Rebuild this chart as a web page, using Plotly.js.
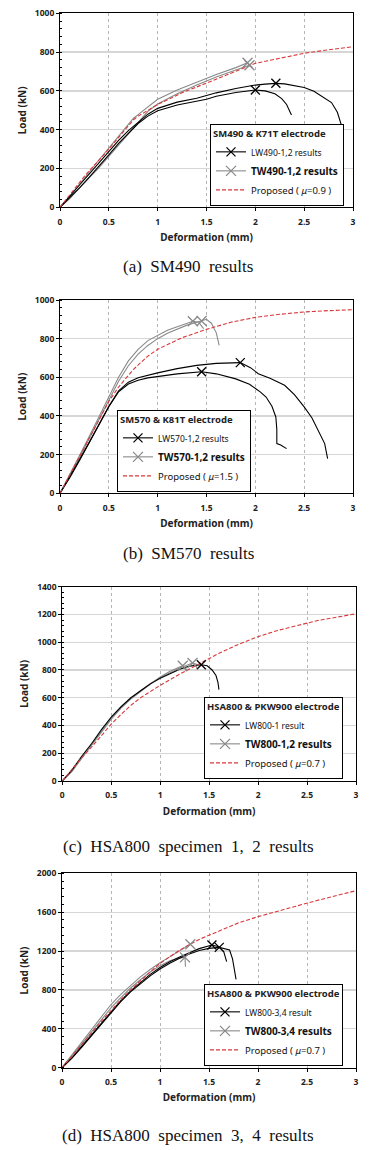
<!DOCTYPE html>
<html><head><meta charset="utf-8">
<script src="https://cdn.plot.ly/plotly-3.0.1.min.js"></script>
<style>html,body{margin:0;padding:0;background:#fff;} #chart{width:376px;height:1150px;}</style>
</head><body><div id="chart"></div>
<script>
// ---------- Panel (a) SM490 ----------
const a_LW1_x = [0,0.1,0.2,0.3,0.4,0.5,0.6,0.7,0.8,0.9,1.0,1.2,1.4,1.5,1.6,1.8,2.0,2.1,2.21,2.3,2.4,2.5,2.6,2.7,2.78,2.84,2.88];
const a_LW1_y = [0,55,115,172,228,287,345,395,440,480,510,542,562,576,590,612,630,635,639,636,628,618,598,568,540,490,425];
const a_LW2_x = [0,0.1,0.2,0.3,0.4,0.5,0.6,0.7,0.8,0.9,1.0,1.2,1.4,1.5,1.6,1.8,2.0,2.1,2.2,2.27,2.32,2.37];
const a_LW2_y = [0,48,100,155,210,270,330,380,432,470,498,527,546,557,572,592,605,600,585,560,530,476];
const a_TW1_x = [0,0.1,0.2,0.3,0.4,0.5,0.6,0.7,0.75,0.8,0.9,1.0,1.2,1.4,1.5,1.6,1.8,1.92];
const a_TW1_y = [0,55,120,185,245,305,365,425,458,478,520,557,605,645,665,685,720,745];
const a_TW2_x = [0,0.1,0.2,0.3,0.4,0.5,0.6,0.7,0.8,0.9,1.0,1.2,1.4,1.5,1.6,1.8,1.94];
const a_TW2_y = [0,45,100,150,205,262,320,380,440,495,532,585,630,652,672,708,732];
const a_prop_x = [0,0.25,0.5,0.75,0.8,1.0,1.25,1.5,1.75,2.0,2.25,2.5,2.75,3.0];
const a_prop_y = [0,160,300,450,470,530,590,640,692,742,768,794,812,828];
const a_LW_peak_x = [2.21,2.0], a_LW_peak_y = [639,605];
const a_TW_peak_x = [1.92,1.94], a_TW_peak_y = [745,732];

// ---------- Panel (b) SM570 ----------
const b_LW1_x = [0,0.1,0.2,0.3,0.4,0.5,0.6,0.7,0.8,0.9,1.0,1.2,1.4,1.6,1.846,1.95,2.03,2.15,2.3,2.4,2.5,2.58,2.64,2.68,2.71,2.74];
const b_LW1_y = [0,85,175,265,360,450,530,575,598,612,623,645,662,672,676,650,619,595,559,510,447,390,326,280,257,179];
const b_LW2_x = [0,0.1,0.2,0.3,0.4,0.5,0.6,0.7,0.8,0.9,1.0,1.2,1.45,1.6,1.8,1.94,2.05,2.11,2.17,2.21,2.22,2.22,2.26,2.32];
const b_LW2_y = [0,80,170,260,355,448,525,565,585,597,605,618,629,618,592,564,525,498,450,395,330,257,250,231];
const b_TW1_x = [0,0.1,0.2,0.3,0.4,0.5,0.6,0.7,0.8,0.9,1.0,1.1,1.2,1.3,1.36,1.42,1.47];
const b_TW1_y = [0,95,195,295,395,500,600,685,745,790,817,843,862,880,890,885,852];
const b_TW2_x = [0,0.1,0.2,0.3,0.4,0.5,0.6,0.7,0.8,0.9,1.0,1.1,1.2,1.3,1.4,1.45,1.5,1.55,1.6,1.63];
const b_TW2_y = [0,90,185,285,385,485,580,660,720,765,800,828,850,870,885,891,900,880,830,765];
const b_prop_x = [0,0.1,0.2,0.3,0.4,0.5,0.6,0.75,0.9,1.0,1.25,1.5,1.75,2.0,2.25,2.5,2.75,3.0];
const b_prop_y = [0,95,190,285,380,475,550,640,710,745,805,848,885,910,926,938,945,950];
const b_LW_peak_x = [1.846,1.45], b_LW_peak_y = [676,629];
const b_TW_peak_x = [1.36,1.45], b_TW_peak_y = [890,891];

// ---------- Panel (c) HSA800 specimen 1, 2 ----------
const c_LW1_x = [0,0.1,0.2,0.3,0.4,0.5,0.6,0.7,0.8,0.9,1.0,1.1,1.2,1.3,1.42,1.48,1.53,1.57,1.59,1.6];
const c_LW1_y = [0,80,180,270,370,460,535,600,650,700,740,775,805,828,838,830,800,760,710,658];
const c_TW1_x = [0,0.1,0.2,0.3,0.4,0.5,0.6,0.7,0.8,0.9,1.0,1.1,1.23,1.27];
const c_TW1_y = [0,70,165,260,355,445,525,590,645,700,750,790,831,790];
const c_TW2_x = [0,0.1,0.2,0.3,0.4,0.5,0.6,0.7,0.8,0.9,1.0,1.1,1.2,1.33,1.38];
const c_TW2_y = [0,75,170,265,360,450,530,595,650,702,745,780,815,850,840];
const c_prop_x = [0,0.1,0.2,0.3,0.4,0.5,0.6,0.7,0.8,0.9,1.0,1.2,1.4,1.6,1.8,2.0,2.2,2.4,2.6,2.8,3.0];
const c_prop_y = [0,85,170,245,330,410,480,545,600,645,690,770,845,920,985,1040,1085,1122,1155,1180,1205];
const c_LW_peak_x = [1.42], c_LW_peak_y = [838];
const c_TW_peak_x = [1.23,1.33], c_TW_peak_y = [831,850];

// ---------- Panel (d) HSA800 specimen 3, 4 ----------
const d_LW1_x = [0,0.1,0.2,0.3,0.4,0.5,0.6,0.7,0.8,0.9,1.0,1.1,1.2,1.3,1.4,1.53,1.6,1.65,1.68];
const d_LW1_y = [0,100,220,340,460,580,690,790,880,960,1030,1090,1140,1185,1225,1262,1245,1194,1091];
const d_LW2_x = [0,0.1,0.2,0.3,0.4,0.5,0.6,0.7,0.8,0.9,1.0,1.1,1.2,1.3,1.4,1.5,1.605,1.71,1.74,1.76,1.776];
const d_LW2_y = [0,95,210,330,450,570,680,780,865,945,1015,1075,1125,1170,1205,1228,1238,1211,1120,1000,909];
const d_TW1_x = [0,0.1,0.2,0.3,0.4,0.5,0.6,0.7,0.8,0.9,1.0,1.1,1.2,1.31];
const d_TW1_y = [0,130,260,385,510,650,755,850,935,1010,1080,1140,1200,1270];
const d_TW2_x = [0,0.1,0.2,0.3,0.4,0.5,0.6,0.7,0.8,0.9,1.0,1.1,1.2,1.255,1.26];
const d_TW2_y = [0,115,240,365,490,615,720,820,905,985,1050,1100,1130,1135,1040];
const d_prop_x = [0,0.1,0.2,0.3,0.4,0.5,0.6,0.7,0.8,0.9,1.0,1.2,1.4,1.6,1.8,2.0,2.2,2.4,2.6,2.8,3.0];
const d_prop_y = [0,115,235,355,475,593,700,800,895,985,1073,1210,1320,1405,1490,1554,1612,1665,1720,1770,1821];
const d_LW_peak_x = [1.53,1.605], d_LW_peak_y = [1262,1238];
const d_TW_peak_x = [1.31,1.255], d_TW_peak_y = [1270,1135];

// ---------- Text ----------
const legendTitles = ['SM490 &amp; K71T electrode','SM570 &amp; K81T electrode','HSA800 &amp; PKW900 electrode','HSA800 &amp; PKW900 electrode'];
const lwNames = ['LW490-1,2 results','LW570-1,2 results','LW800-1 result','LW800-3,4 result'];
const twNames = ['TW490-1,2 results','TW570-1,2 results','TW800-1,2 results','TW800-3,4 results'];
const muValues = ['0.9','1.5','0.7','0.7'];
const captions = ['(a)\u00a0 SM490\u00a0 results','(b)\u00a0 SM570\u00a0 results','(c)\u00a0 HSA800\u00a0 specimen\u00a0 1,\u00a0 2\u00a0 results','(d)\u00a0 HSA800\u00a0 specimen\u00a0 3,\u00a0 4\u00a0 results'];
const yMax = [1000,1000,1400,2000];
const yDtick = [200,200,200,400];

// ---------- Build ----------
const BLACK = '#000000', GRAY = '#8a8a8a', RED = '#d9383a';
const panels = [
  {LW:[[a_LW1_x,a_LW1_y],[a_LW2_x,a_LW2_y]], TW:[[a_TW1_x,a_TW1_y],[a_TW2_x,a_TW2_y]], P:[a_prop_x,a_prop_y], LWp:[a_LW_peak_x,a_LW_peak_y], TWp:[a_TW_peak_x,a_TW_peak_y]},
  {LW:[[b_LW1_x,b_LW1_y],[b_LW2_x,b_LW2_y]], TW:[[b_TW1_x,b_TW1_y],[b_TW2_x,b_TW2_y]], P:[b_prop_x,b_prop_y], LWp:[b_LW_peak_x,b_LW_peak_y], TWp:[b_TW_peak_x,b_TW_peak_y]},
  {LW:[[c_LW1_x,c_LW1_y]], TW:[[c_TW1_x,c_TW1_y],[c_TW2_x,c_TW2_y]], P:[c_prop_x,c_prop_y], LWp:[c_LW_peak_x,c_LW_peak_y], TWp:[c_TW_peak_x,c_TW_peak_y]},
  {LW:[[d_LW1_x,d_LW1_y],[d_LW2_x,d_LW2_y]], TW:[[d_TW1_x,d_TW1_y],[d_TW2_x,d_TW2_y]], P:[d_prop_x,d_prop_y], LWp:[d_LW_peak_x,d_LW_peak_y], TWp:[d_TW_peak_x,d_TW_peak_y]}
];
function gaps(arr){ const out=[]; arr.forEach((v,i)=>{ if(i>0) out.push(null); out.push(v); }); return out; }

const W=376, H=1150;
const boxes = [
  {l:60,r:353,t:13.3,b:207.3, leg:[210,124], cap:267},
  {l:60,r:353,t:300,b:493.3, leg:[117,410], cap:553},
  {l:62.3,r:356,t:586.7,b:781, leg:[204,697], cap:847},
  {l:62,r:356,t:873.3,b:1067.7, leg:[204,984], cap:1135}
];
const FONT = 'Noto Sans, Open Sans, sans-serif';
const traces=[];
const layout = {width:W, height:H, margin:{l:0,r:0,t:0,b:0}, paper_bgcolor:'#fff', plot_bgcolor:'#fff',
  font:{family:FONT, color:'#222'}, annotations:[], showlegend:true};

panels.forEach((p,i)=>{
  const n = i===0 ? '' : String(i+1);
  const xa = 'x'+n, ya = 'y'+n, lg = 'legend'+n;
  p.TW.forEach(s=>traces.push({x:s[0], y:s[1], xaxis:xa, yaxis:ya, mode:'lines', line:{color:GRAY,width:1.1}, showlegend:false, legend:lg, hoverinfo:'skip'}));
  p.LW.forEach(s=>traces.push({x:s[0], y:s[1], xaxis:xa, yaxis:ya, mode:'lines', line:{color:BLACK,width:1.1}, showlegend:false, legend:lg, hoverinfo:'skip'}));
  traces.push({x:p.P[0], y:p.P[1], xaxis:xa, yaxis:ya, mode:'lines', line:{color:RED,width:1.1,dash:'4px,2px'}, showlegend:false, legend:lg});
  traces.push({x:gaps(p.LWp[0]), y:gaps(p.LWp[1]), xaxis:xa, yaxis:ya, mode:'lines+markers', connectgaps:false,
    name:'<span style="font-size:8.5px">'+lwNames[i]+'</span>', legend:lg, legendrank:1,
    line:{color:BLACK,width:1.1}, marker:{symbol:'x-thin-open', size:9, color:BLACK, line:{color:BLACK,width:1.3}}});
  traces.push({x:gaps(p.TWp[0]), y:gaps(p.TWp[1]), xaxis:xa, yaxis:ya, mode:'lines+markers', connectgaps:false,
    name:'<b><span style="font-size:10px">'+twNames[i]+'</span></b>', legend:lg, legendrank:2,
    line:{color:GRAY,width:1.1}, marker:{symbol:'x-thin-open', size:10, color:GRAY, line:{color:GRAY,width:1.3}}});
  traces.push({x:[null], y:[null], xaxis:xa, yaxis:ya, mode:'lines', name:'Proposed ( <i>μ</i>=' + muValues[i] + ' )', legend:lg, legendrank:3,
    line:{color:RED,width:1.2,dash:'4px,2px'}});

  const bx = boxes[i];
  layout['xaxis'+n] = {domain:[bx.l/W, bx.r/W], anchor:ya, range:[0,3], dtick:0.5, tick0:0,
    showline:true, mirror:true, linecolor:'#000', linewidth:1, ticks:'outside', ticklen:3, tickcolor:'#000', ticklabelstandoff:3,
    showgrid:true, gridcolor:'#b5b5b5', griddash:'dot', gridwidth:1, zeroline:false,
    tickfont:{size:8.5, family:FONT, color:'#222', weight:'bold'},
    title:{text:'Deformation (mm)', font:{size:10, family:FONT, color:'#222', weight:'bold'}, standoff:8}, automargin:false, fixedrange:true};
  layout['yaxis'+n] = {domain:[1-bx.b/H, 1-bx.t/H], anchor:xa, range:[0,yMax[i]], dtick:yDtick[i], tick0:0,
    showline:true, mirror:true, linecolor:'#000', linewidth:1, ticks:'outside', ticklen:3, tickcolor:'#000',
    minor:{dtick:yDtick[i]/5, ticks:'inside', ticklen:2, tickcolor:'#000', showgrid:false},
    showgrid:true, gridcolor:'#d6d6d6', gridwidth:1.3, zeroline:false,
    tickfont:{size:8.5, family:FONT, color:'#222', weight:'bold'},
    title:{text:'Load (kN)', font:{size:10, family:FONT, color:'#222', weight:'bold'}, standoff:6}, automargin:false, fixedrange:true};
  layout[lg] = {x:bx.leg[0]/W, y:1-bx.leg[1]/H, xanchor:'left', yanchor:'top', xref:'paper', yref:'paper',
    bgcolor:'#fff', bordercolor:'#000', borderwidth:1, traceorder:'normal',
    title:{text:'<b>'+legendTitles[i]+'</b>', font:{size:9.5, family:FONT, color:'#222'}},
    font:{size:9.5, family:FONT, color:'#111'}, tracegroupgap:0};
  layout.annotations.push({text:captions[i], xref:'paper', yref:'paper', x:0.5, y:1-bx.cap/H, xanchor:'center', yanchor:'middle', showarrow:false,
    font:{family:'Liberation Serif, Times New Roman, serif', size:17, color:'#111'}});
});

Plotly.newPlot('chart', traces, layout, {staticPlot:true, displayModeBar:false});
</script></body></html>
